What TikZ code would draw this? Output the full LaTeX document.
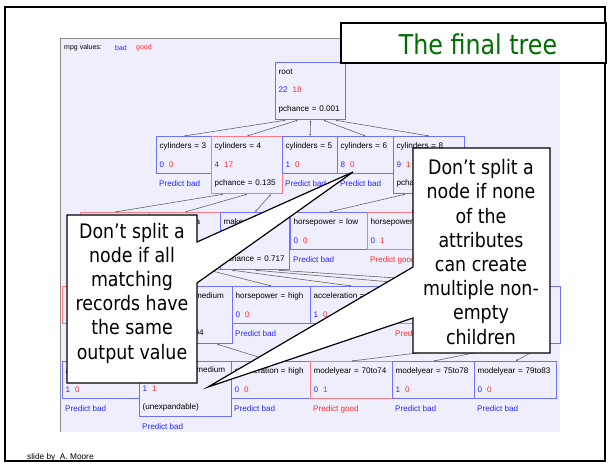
\documentclass[tikz,border=0pt]{standalone}
\usepackage{fontspec}
\setmainfont{Liberation Sans}
\newfontfamily\tahoma[FakeStretch=0.87]{DejaVu Sans}
\usetikzlibrary{positioning, calc, arrows.meta}
\definecolor{panelbg}{RGB}{238,238,252}
\definecolor{badline}{RGB}{112,112,255}
\definecolor{goodline}{RGB}{255,122,132}
\definecolor{badtext}{RGB}{40,40,255}
\definecolor{goodtext}{RGB}{255,45,45}
\definecolor{titlegreen}{RGB}{0,110,0}
\newcommand{\cbad}[1]{\textcolor{badtext}{#1}}
\newcommand{\cgood}[1]{\textcolor{goodtext}{#1}}

\begin{document}
\begin{tikzpicture}[x=1pt, y=-1pt,
    tbox/.style={rectangle, draw, line width=1.2pt, anchor=north west, align=left,
        inner xsep=3pt, inner ysep=0pt, minimum height=37pt,
        font=\fontsize{8.1}{18.5}\selectfont},
    badbox/.style={tbox, draw=badline},
    goodbox/.style={tbox, draw=goodline},
    splitbox/.style={minimum height=57pt},
    pbad/.style={inner sep=0pt, text=badtext, font=\fontsize{8.1}{10}\selectfont},
    pgood/.style={pbad, text=goodtext},
    small/.style={inner sep=0pt, anchor=west, font=\fontsize{7}{8}\selectfont},
    tedge/.style={draw=black!60, line width=.6pt,
        {Latex[length=2pt,width=2pt]}-{Latex[length=2pt,width=2pt]}},
    callout/.style={draw, line width=1.2pt, fill=white},
    callouttext/.style={align=center, inner sep=0pt, font=\tahoma\fontsize{20}{24.2}\selectfont},
    ]
    \useasboundingbox (0,0) rectangle (610,464);

    % slide frame and screenshot panel
    \draw[line width=1.6pt] (5,7) rectangle (605,461);
    \fill[panelbg] (60,38) rectangle (560,432);
    \draw[black!45, line width=.8pt] (60,432) -- (60,38) -- (560,38);

    \node[small] (mpg) at (64,48) {mpg values:};
    \node[small, text=badtext] (mpgbad) at (115,48) {bad};
    \node[small, text=goodtext] (mpggood) at (136,48) {good};

    % tree nodes (boxes that the callouts hide keep no text)
    \node[badbox, splitbox, text width=64pt] (root) at (275,62) {root\\\cbad{22}\hspace{5pt}\cgood{18}\\pchance = 0.001};

    \node[badbox, text width=49pt] (c3) at (156,136) {cylinders = 3\\\cbad{0}\hspace{5pt}\cgood{0}};
    \node[goodbox, splitbox, text width=65pt] (c4) at (211,136) {cylinders = 4\\\cbad{4}\hspace{5pt}\cgood{17}\\pchance = 0.135};
    \node[badbox, text width=49pt] (c5) at (282,136) {cylinders = 5\\\cbad{1}\hspace{5pt}\cgood{0}};
    \node[badbox, text width=50pt] (c6) at (337,136) {cylinders = 6\\\cbad{8}\hspace{5pt}\cgood{0}};
    \node[badbox, splitbox, text width=65pt] (c8) at (393,136) {cylinders = 8\\\cbad{9}\hspace{5pt}\cgood{1}\\pchance = 0.085};

    \node[goodbox, text width=63pt] (ma) at (80,212) {};
    \node[goodbox, splitbox, text width=65pt] (ms) at (149,212) {maker = asia\\\cbad{2}\hspace{5pt}\cgood{5}\\pchance = 0.313};
    \node[badbox, splitbox, text width=63pt] (me) at (220,212) {maker = europe\\\cbad{2}\hspace{5pt}\cgood{2}\\pchance = 0.717};
    \node[badbox, text width=71pt] (hl) at (290,212) {horsepower = low\\\cbad{0}\hspace{5pt}\cgood{0}};
    \node[goodbox, text width=82pt] (hm) at (367,212) {horsepower = medium\\\cbad{0}\hspace{5pt}\cgood{1}};
    \node[badbox, text width=71pt] (hh) at (455,212) {};

    \node[goodbox, text width=71pt] (shl) at (62,286) {};
    \node[badbox, splitbox, text width=87pt] (shm) at (139,286) {horsepower = medium\\\cbad{2}\hspace{5pt}\cgood{1}\\pchance = 0.894};
    \node[badbox, text width=72pt] (shh) at (232,286) {horsepower = high\\\cbad{0}\hspace{5pt}\cgood{0}};
    \node[badbox, text width=76pt] (eal) at (310,286) {acceleration = low\\\cbad{1}\hspace{5pt}\cgood{0}};
    \node[goodbox, text width=84pt] (eam) at (392,286) {acceleration = medium\\\cbad{0}\hspace{5pt}\cgood{1}};
    \node[badbox, splitbox, text width=80pt] (eah) at (474,286) {acceleration = high\\\cbad{1}\hspace{5pt}\cgood{1}\\pchance = 0.552};

    \node[badbox, text width=71pt] (sal) at (62,361) {acceleration = low\\\cbad{1}\hspace{5pt}\cgood{0}};
    \node[badbox, minimum height=55pt, text width=86pt] (sam) at (139,361) {acceleration = medium\\\cbad{1}\hspace{5pt}\cgood{1}\\(unexpandable)};
    \node[badbox, text width=73pt] (sah) at (231,361) {acceleration = high\\\cbad{0}\hspace{5pt}\cgood{0}};
    \node[goodbox, text width=76pt] (my1) at (310,361) {modelyear = 70to74\\\cbad{0}\hspace{5pt}\cgood{1}};
    \node[badbox, text width=76pt] (my2) at (392,361) {modelyear = 75to78\\\cbad{1}\hspace{5pt}\cgood{0}};
    \node[badbox, text width=76pt] (my3) at (474,361) {modelyear = 79to83\\\cbad{0}\hspace{5pt}\cgood{0}};

    % predictions under the leaves
    \foreach \leaf in {c3, c5, c6, hl, shh, eal, sal, sam, sah, my2, my3}
        \node[pbad, anchor=north west, below right=6.5pt and 3pt of \leaf.south west] (\leaf p) {Predict bad};
    \foreach \leaf in {hm, eam, my1}
        \node[pgood, anchor=north west, below right=6.5pt and 3pt of \leaf.south west] (\leaf p) {Predict good};

    % connectors
    \foreach \kid/\f in {c3/.15, c4/.32, c5/.5, c6/.68, c8/.85}
        \draw[tedge] ($(root.south west)!\f!(root.south east)$) -- (\kid.north);
    \foreach \up/\a/\b/\c in {c4/ma/ms/me, c8/hl/hm/hh, ms/shl/shm/shh, me/eal/eam/eah, shm/sal/sam/sah, eah/my1/my2/my3} {
        \draw[tedge] ($(\up.south west)!.17!(\up.south east)$) -- (\a.north);
        \draw[tedge] ($(\up.south west)!.5!(\up.south east)$) -- (\b.north);
        \draw[tedge] ($(\up.south west)!.83!(\up.south east)$) -- (\c.north);
    }

    % title
    \draw[line width=1.2pt, fill=white] (341,23) rectangle (606,63);
    \node[inner sep=0pt, text=titlegreen, font=\tahoma\fontsize{27.3}{30}\selectfont] (title) at (478,44) {The final tree};

    % callouts
    \coordinate (lefttip) at (353,172);
    \coordinate (righttip) at (208,387);
    \draw[callout] (67,215) -- (197,215) -- (197,242) -- (lefttip) -- (197,283) -- (197,383) -- (67,383) -- cycle;
    \node[callouttext] (leftnote) at (132,293) {Don’t split a\\node if all\\matching\\records have\\the same\\output value};
    \draw[callout] (413,148) -- (550,148) -- (550,353) -- (413,353) -- (413,318) -- (righttip) -- (413,267) -- cycle;
    \node[callouttext] (rightnote) at (481,252) {Don’t split a\\node if none\\of the\\attributes\\can create\\multiple non-\\empty\\children};

    \node[inner sep=0pt, anchor=west, font=\fontsize{8.3}{10}\selectfont] (credit) at (27,457) {slide by\ \ A. Moore};
\end{tikzpicture}
\end{document}
